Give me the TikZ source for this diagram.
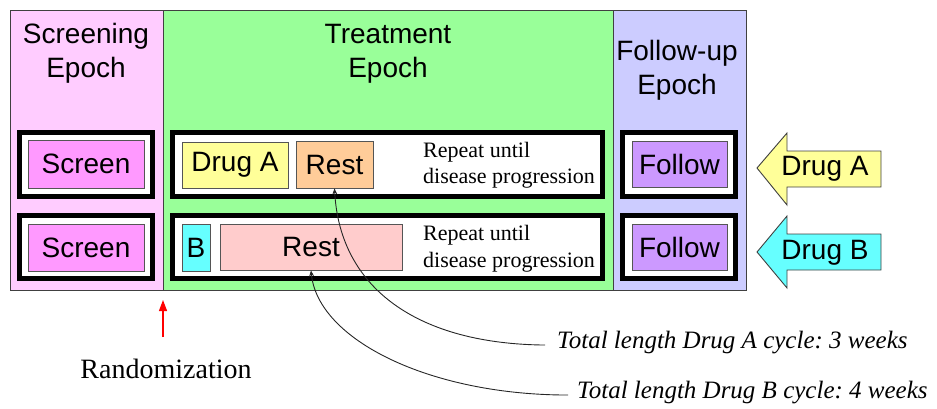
\documentclass[tikz,border=0pt]{standalone}
\usepackage{fontspec}
\setmainfont{Liberation Serif}
\setsansfont{Liberation Sans}
\usetikzlibrary{arrows.meta}

\definecolor{scrpanel}{HTML}{FFCCFF}
\definecolor{trtpanel}{HTML}{99FF99}
\definecolor{fupanel}{HTML}{CCCCFF}
\definecolor{scrcell}{HTML}{FF99FF}
\definecolor{drugacell}{HTML}{FFFF99}
\definecolor{restacell}{HTML}{FFCC99}
\definecolor{drugbcell}{HTML}{66FFFF}
\definecolor{restbcell}{HTML}{FFCCCC}
\definecolor{fucell}{HTML}{CC99FF}
\definecolor{edge}{HTML}{404040}
\definecolor{celledge}{HTML}{555555}

\begin{document}
\begin{tikzpicture}[x=1pt,y=-1pt,
  epoch/.style={draw=edge, line width=1pt, inner sep=0pt, outer sep=0pt},
  rowbox/.style={draw=black, line width=5pt, fill=white, inner sep=0pt},
  cell/.style={draw=celledge, line width=0.9pt, inner sep=0pt,
    font=\sffamily\fontsize{28}{33}\selectfont},
  heading/.style={font=\sffamily\fontsize{28}{33}\selectfont, anchor=base, inner sep=0pt},
  note/.style={font=\fontsize{22}{26}\selectfont, anchor=base west, inner sep=0pt},
  cyclen/.style={font=\itshape\fontsize{25}{30}\selectfont, anchor=base west, inner sep=0pt},
  cyclink/.style={draw=black!85, line width=0.9pt, -{Stealth[length=6pt,width=5pt]}},
  armbadge/.style={draw=edge, line width=0.9pt},
  armtext/.style={font=\sffamily\fontsize{28}{33}\selectfont, inner sep=0pt}
]
\useasboundingbox (0,0) rectangle (937,408);

% epoch panels
\node[epoch, fill=scrpanel, minimum width=153pt, minimum height=280pt] (scr) at (86.5,150) {};
\node[epoch, fill=trtpanel, minimum width=450pt, minimum height=280pt] (trt) at (388,150) {};
\node[epoch, fill=fupanel, minimum width=133pt, minimum height=280pt] (fu) at (679.5,150) {};

% epoch headings
\node[heading] (scrh1) at (86,43) {Screening};
\node[heading] (scrh2) at (86,77) {Epoch};
\node[heading] (trth1) at (388,43) {Treatment};
\node[heading] (trth2) at (388,77) {Epoch};
\node[heading] (fuh1) at (677,60) {Follow-up};
\node[heading] (fuh2) at (677,94) {Epoch};

% screening epoch
\node[rowbox, minimum width=133pt, minimum height=64pt] (scrrowA) at (86,164.5) {};
\node[rowbox, minimum width=133pt, minimum height=63pt] (scrrowB) at (86,247) {};
\node[cell, fill=scrcell, minimum width=116pt, minimum height=48pt] (screenA) at (86,164) {Screen};
\node[cell, fill=scrcell, minimum width=116pt, minimum height=47pt] (screenB) at (86,247.5) {Screen};

% treatment epoch
\node[rowbox, minimum width=430pt, minimum height=64pt] (trtrowA) at (387.5,164.5) {};
\node[rowbox, minimum width=430pt, minimum height=63pt] (trtrowB) at (387.5,247) {};
\node[cell, fill=drugacell, minimum width=106pt, minimum height=46pt] (drugA) at (235,165) {Drug A};
\node[cell, fill=restacell, minimum width=77pt, minimum height=47pt] (restA) at (334.5,164.5) {Rest};
\node[cell, fill=drugbcell, minimum width=28pt, minimum height=47pt] (drugB) at (196,247.5) {B};
\node[cell, fill=restbcell, minimum width=182pt, minimum height=46pt] (restB) at (311,247) {Rest};
\node[note] (repA1) at (423,157) {Repeat until};
\node[note] (repA2) at (423,183) {disease progression};
\node[note] (repB1) at (423,240) {Repeat until};
\node[note] (repB2) at (423,267) {disease progression};

% follow-up epoch
\node[rowbox, minimum width=113pt, minimum height=64pt] (furowA) at (679,164.5) {};
\node[rowbox, minimum width=113pt, minimum height=63pt] (furowB) at (679,247) {};
\node[cell, fill=fucell, minimum width=95pt, minimum height=46pt] (followA) at (679.5,164) {Follow};
\node[cell, fill=fucell, minimum width=95pt, minimum height=46pt] (followB) at (679.5,247) {Follow};

% arm badges
\draw[armbadge, fill=drugacell] (757,168) -- (787,133) -- (787,151) -- (881,151)
  -- (881,187) -- (787,187) -- (787,205) -- cycle;
\node[armtext] (armA) at (825,169) {Drug A};
\draw[armbadge, fill=drugbcell] (757,252) -- (787,216) -- (787,234) -- (881,234)
  -- (881,270) -- (787,270) -- (787,288) -- cycle;
\node[armtext] (armB) at (825,253) {Drug B};

% randomization marker
\coordinate (randtip) at (163,300);
\coordinate (randtail) at (163,337);
\draw[red, line width=1.2pt, -{Triangle[length=11pt,width=8pt]}] (randtail) -- (randtip);
\node[font=\fontsize{28}{32}\selectfont, anchor=base, inner sep=0pt] (rand) at (166,378) {Randomization};

% cycle lengths
\node[cyclen] (lenA) at (557,348) {Total length Drug A cycle:\ 3 weeks};
\node[cyclen] (lenB) at (577,398) {Total length Drug B cycle:\ 4 weeks};
\draw[cyclink] ([xshift=-12pt,yshift=-3pt]lenA.west) .. controls (420,344) and (340,290) .. (restA.south);
\draw[cyclink] ([xshift=-9pt,yshift=-3pt]lenB.west) .. controls (430,395) and (318,340) .. (restB.south);
\end{tikzpicture}
\end{document}
